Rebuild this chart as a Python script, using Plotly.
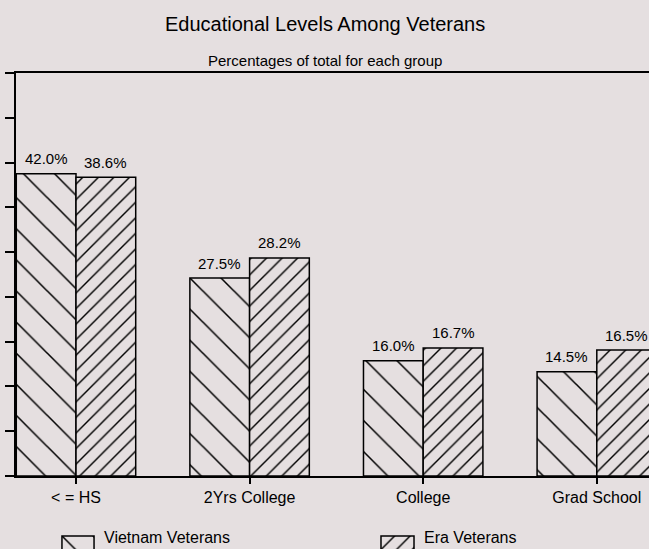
import plotly.graph_objects as go

categories = ["< = HS", "2Yrs College", "College", "Grad School"]
series_names = ["Vietnam Veterans", "Era Veterans"]
# percentages printed above the bars
vietnam_values = [42.0, 27.5, 16.0, 14.5]
era_values = [38.6, 28.2, 16.7, 16.5]
# bar heights as drawn in the original (its bars are not exactly to the printed values)
vietnam_heights = [42.0, 27.5, 16.0, 14.5]
era_heights = [41.5, 30.3, 17.8, 17.5]

BG = "#e5dfe0"
FONT = "Liberation Sans, Arial, Helvetica, sans-serif"
FIG_W, FIG_H = 649, 549
PLOT_L, PLOT_R, PLOT_T, PLOT_B = 16, 649, 73, 476
W = 0.344  # bar width in category units
Y_MAX = 56
N_TICKS = 9

xs = list(range(len(categories)))


def px_x(p):
    return p / FIG_W


def px_y(p):
    return 1 - p / FIG_H


patterns = [dict(shape="\\", size=22, solidity=0.07, fgcolor="black", fgopacity=1, bgcolor=BG),
            dict(shape="/", size=11, solidity=0.13, fgcolor="black", fgopacity=1, bgcolor=BG)]
outline = dict(color="black", width=1.5)

fig = go.Figure()
fig.add_trace(go.Bar(
    name=series_names[0], x=xs, y=vietnam_heights, offset=-W, width=W,
    marker=dict(color=BG, line=outline, pattern=patterns[0]), showlegend=False,
))
fig.add_trace(go.Bar(
    name=series_names[1], x=xs, y=era_heights, offset=0, width=W,
    marker=dict(color=BG, line=outline, pattern=patterns[1]), showlegend=False,
))

annotations = []
for i, (h, v) in enumerate(zip(vietnam_heights, vietnam_values)):
    annotations.append(dict(x=i - W / 2, y=h, text=f"{v:.1f}%", showarrow=False,
                            xref="x", yref="y", yanchor="middle", yshift=15,
                            font=dict(family=FONT, size=15, color="black")))
for i, (h, v) in enumerate(zip(era_heights, era_values)):
    annotations.append(dict(x=i + W / 2, y=h, text=f"{v:.1f}%", showarrow=False,
                            xref="x", yref="y", yanchor="middle", yshift=15,
                            font=dict(family=FONT, size=15, color="black")))

annotations.append(dict(text="Educational Levels Among Veterans", xref="paper", yref="paper",
                        x=px_x(324.5), y=px_y(24), xanchor="center", yanchor="middle",
                        showarrow=False, font=dict(family=FONT, size=20, color="black")))
annotations.append(dict(text="Percentages of total for each group", xref="paper", yref="paper",
                        x=px_x(324.5), y=px_y(60), xanchor="center", yanchor="middle",
                        showarrow=False, font=dict(family=FONT, size=15, color="black")))

# legend: hatched key boxes (cut by the bottom edge, as in the original) + labels
legend_boxes = [(62, 94), (381, 414)]
for k, (name, (bx0, bx1)) in enumerate(zip(series_names, legend_boxes)):
    ax = k + 2
    fig.add_trace(go.Bar(
        x=[0], y=[2], base=[-1], width=[1], xaxis=f"x{ax}", yaxis=f"y{ax}",
        marker=dict(color=BG, line=outline, pattern=patterns[k]),
        showlegend=False, hoverinfo="skip",
    ))
    fig.update_layout({
        f"xaxis{ax}": dict(domain=[px_x(bx0 - 1), px_x(bx1 + 1)], range=[-0.53, 0.53], visible=False,
                           anchor=f"y{ax}", fixedrange=True),
        f"yaxis{ax}": dict(domain=[0, px_y(535)], range=[0, 1.08], visible=False,
                           anchor=f"x{ax}", fixedrange=True),
    })
    annotations.append(dict(text=name, xref="paper", yref="paper", x=px_x(bx1 + 8), y=px_y(537),
                            xanchor="left", yanchor="middle", showarrow=False,
                            font=dict(family=FONT, size=16, color="black")))

fig.update_layout(
    width=FIG_W, height=FIG_H,
    margin=dict(l=0, r=0, t=0, b=0, autoexpand=False),
    paper_bgcolor=BG, plot_bgcolor=BG,
    barmode="overlay",
    showlegend=False,
    annotations=annotations,
    font=dict(family=FONT, color="black"),
    xaxis=dict(domain=[px_x(PLOT_L), px_x(PLOT_R)], range=[-0.3456, 3.3007],
               tickvals=xs, ticktext=categories,
               showline=True, linecolor="black", linewidth=2, mirror=True,
               ticks="outside", ticklen=6, tickwidth=1.5, tickcolor="black",
               tickfont=dict(family=FONT, size=16, color="black"),
               showgrid=False, zeroline=False),
    yaxis=dict(domain=[px_y(PLOT_B), px_y(PLOT_T)], range=[0, Y_MAX], tick0=0, dtick=Y_MAX / N_TICKS,
               showline=True, linecolor="black", linewidth=2,
               ticks="outside", ticklen=9, tickwidth=1.5, tickcolor="black",
               showticklabels=False, showgrid=False, zeroline=False),
)

fig.write_html("out.html", config={"displayModeBar": False},
               post_script="document.body.style.margin='0px';document.body.style.overflow='hidden';")
